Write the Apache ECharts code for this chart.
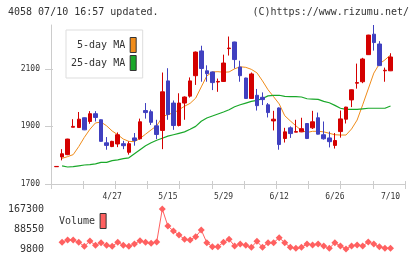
<!DOCTYPE html>
<html>
<head>
<meta charset="utf-8">
<script src="https://cdn.jsdelivr.net/npm/echarts@6/dist/echarts.min.js"></script>
<style>
html, body { margin: 0; padding: 0; background: #fff; }
#chart { width: 420px; height: 259px; }
</style>
</head>
<body>
<div id="chart"></div>
<script>
// 日足 (index 0..60)
var openP  = [1760,1794,1802,1897,1896,1930,1917,1944,1923,1843,1830,1839,1840,1810,1860,1857,1955,1951,1902,1886,
              2058,1981,1903,1981,2005,2076,2162,2093,2089,2054,2056,2170,2193,2106,2068,1997,2008,2001,1975,1919,
              1964,1858,1895,1880,1881,1910,1895,1930,1871,1860,1834,1882,1925,1992,2050,2055,2149,2220,2186,2093,2093];
var closeP = [1761,1805,1856,1900,1925,1888,1944,1931,1848,1834,1848,1871,1833,1840,1851,1916,1948,1914,1872,2020,
              1941,1903,1981,2002,2058,2158,2101,2083,2052,2056,2120,2172,2132,2076,1997,2082,1972,1993,1948,1925,
              1837,1881,1875,1882,1892,1858,1916,1873,1857,1847,1851,1926,1967,2027,2052,2134,2217,2191,2111,2095,2141];
var lowP   = [1760,1782,1800,1897,1896,1887,1909,1917,1847,1819,1828,1828,1821,1802,1833,1854,1927,1905,1856,1821,
              1923,1888,1900,1923,2000,2044,2055,2055,2026,2020,2055,2146,2101,2055,1996,1996,1955,1974,1931,1886,
              1819,1844,1860,1880,1880,1856,1891,1872,1854,1827,1823,1861,1910,1967,2031,2050,2148,2163,2110,2055,2092];
var highP  = [1761,1821,1857,1925,1950,1931,1953,1953,1924,1863,1850,1879,1850,1848,1877,1927,1981,1958,1923,2087,
              2102,1990,2015,2004,2070,2160,2180,2112,2090,2066,2149,2212,2194,2128,2069,2087,2030,2018,1981,1954,
              1966,1895,1900,1923,1930,1911,1954,1948,1917,1882,1877,1955,1968,2028,2118,2138,2218,2252,2196,2104,2154];
var ma5  = [null,1789,1795,1802,1830,1862,1890,1912,1915,1902,1884,1871,1856,1848,1847,1858,1873,1888,1902,1932,
            1942,1946,1958,1970,1980,1998,2037,2075,2089,2090,2088,2089,2100,2107,2105,2098,2086,2058,2027,2003,
            1978,1937,1919,1902,1886,1879,1883,1883,1881,1876,1871,1870,1870,1891,1922,1975,2030,2085,2117,2131,2148];
var ma25 = [null,1763,1759,1760,1763,1766,1767,1770,1775,1775,1781,1784,1788,1791,1805,1819,1833,1843,1852,1859,
            1866,1871,1876,1881,1890,1900,1918,1929,1936,1943,1950,1958,1968,1975,1981,1987,1990,1997,2006,2008,
            2008,2004,2003,2003,2002,1996,1995,1994,1987,1982,1973,1963,1959,1959,1959,1961,1963,1963,1963,1963,1971];
var volume = [null,36200,45200,45200,36200,20400,41300,24400,34600,24400,20400,36200,24400,20400,29500,42500,36200,32200,37400,167300,
              100400,80700,65000,48000,45200,58200,84600,34600,18900,18900,36200,48000,21600,29500,24400,16500,40100,16500,34600,34600,
              54300,34600,16500,12400,16500,29500,25600,29500,21600,12400,34600,21600,9800,21600,25600,21600,37400,29500,18900,12400,12400];
var dateIdx = [10, 20, 30, 40, 50, 60];
var dateLabels = ['4/27', '5/15', '5/29', '6/12', '6/26', '7/10'];
var priceTicks = [1700, 1900, 2100];
var volTicks = [9800, 88550, 167300];

var XMIN = -0.99, XMAX = 62.6;
var MONO = 'DejaVu Sans Mono';
var axisGray = '#cccccc';

function plain(v) {
    return String(v);    // 桁区切りなし
}

function drawChart() {
    var myChart = echarts.init(document.getElementById('chart'));

    var candles = [], ma5Data = [], ma25Data = [], volData = [];
    for (var i = 0; i < openP.length; i++) {
        candles.push([i, openP[i], closeP[i], lowP[i], highP[i]]);
        if (ma5[i] != null) ma5Data.push([i, ma5[i]]);
        if (ma25[i] != null) ma25Data.push([i, ma25[i]]);
        if (volume[i] != null) volData.push([i, volume[i]]);
    }
    // x軸の目盛り（11等分）
    var xTicks = [];
    for (var k = 0; k <= 11; k++) {
        xTicks.push(XMIN + k * (XMAX - XMIN) / 11);
    }

    var option = {
        animation: false,
        backgroundColor: '#fff',
        graphic: [
            { type: 'text', left: 8, top: 7, style: { text: '4058 07/10 16:57 updated.', font: '10px "DejaVu Sans Mono"', fill: '#333' } },
            { type: 'text', right: 11, top: 7, style: { text: '(C)https://www.rizumu.net/', font: '10px "DejaVu Sans Mono"', fill: '#333' } }
        ],
        legend: [
            {
                data: ['5-day MA', '25-day MA'],
                left: 66, top: 30,
                orient: 'vertical',
                align: 'right',
                icon: 'rect',
                itemWidth: 6, itemHeight: 15, itemGap: 2,
                padding: [7, 6, 7, 5],
                borderColor: '#dddddd', borderWidth: 1,
                backgroundColor: '#fff',
                selectedMode: false,
                itemStyle: { borderColor: '#333', borderWidth: 1 },
                formatter: function (name) { return name.length < 9 ? ' ' + name : name; },
                textStyle: { fontFamily: MONO, fontSize: 10, color: '#333' }
            },
            {
                data: ['Volume'],
                left: 59, top: 213,
                align: 'right',
                icon: 'rect',
                itemWidth: 6, itemHeight: 15,
                padding: 0,
                selectedMode: false,
                itemStyle: { borderColor: '#333', borderWidth: 1 },
                textStyle: { fontFamily: MONO, fontSize: 10, color: '#333' }
            }
        ],
        grid: [
            { left: 51, top: 25, width: 354, height: 159 },
            { left: 51, top: 209, width: 354, height: 40 }
        ],
        xAxis: [
            {
                type: 'value', gridIndex: 0, min: XMIN, max: XMAX,
                axisLine: { show: true, onZero: false, lineStyle: { color: axisGray } },
                axisTick: { show: false },
                splitLine: { show: false },
                axisLabel: {
                    customValues: dateIdx, margin: 9,
                    fontFamily: MONO, fontSize: 8, color: '#333',
                    formatter: function (v) { return dateLabels[dateIdx.indexOf(v)]; }
                }
            },
            {
                // 目盛り線だけ
                type: 'value', gridIndex: 0, position: 'bottom', offset: -3, min: XMIN, max: XMAX,
                axisLine: { show: false, onZero: false },
                axisTick: { show: true, length: 8, customValues: xTicks, lineStyle: { color: axisGray } },
                axisLabel: { show: false },
                splitLine: { show: false }
            },
            {
                type: 'value', gridIndex: 1, min: XMIN, max: XMAX, show: false,
                axisLine: { onZero: false }, splitLine: { show: false }
            }
        ],
        yAxis: [
            {
                type: 'value', gridIndex: 0, min: 1700, max: 2252,
                axisLine: { show: true, onZero: false, lineStyle: { color: axisGray } },
                axisTick: { show: false },
                splitLine: { show: false },
                axisLabel: { customValues: priceTicks, margin: 11, fontFamily: MONO, fontSize: 8, color: '#333', formatter: plain }
            },
            {
                type: 'value', gridIndex: 0, position: 'left', offset: -2, min: 1700, max: 2252,
                axisLine: { show: false, onZero: false },
                axisTick: { show: true, length: 8, customValues: priceTicks, lineStyle: { color: axisGray } },
                axisLabel: { show: false },
                splitLine: { show: false }
            },
            {
                type: 'value', gridIndex: 1, min: 9800, max: 167300,
                axisLine: { show: false, onZero: false },
                axisTick: { show: false },
                splitLine: { show: false },
                axisLabel: { customValues: volTicks, margin: 7, fontFamily: MONO, fontSize: 10, color: '#333', formatter: plain }
            }
        ],
        series: [
            {
                name: '5-day MA', type: 'line', xAxisIndex: 0, yAxisIndex: 0,
                data: ma5Data, showSymbol: false, z: 2,
                itemStyle: { color: '#f08c1a' },
                lineStyle: { color: '#f08c1a', width: 1 }
            },
            {
                name: '25-day MA', type: 'line', xAxisIndex: 0, yAxisIndex: 0,
                data: ma25Data, showSymbol: false, z: 2,
                itemStyle: { color: '#1aa82a' },
                lineStyle: { color: '#1aa82a', width: 1.2 }
            },
            {
                name: 'price', type: 'candlestick', xAxisIndex: 0, yAxisIndex: 0,
                data: candles, barWidth: 4, z: 3,
                encode: { x: 0, y: [1, 2, 3, 4] },
                itemStyle: {
                    color: '#d40000', color0: '#4040c0',
                    borderColor: '#d40000', borderColor0: '#4040c0', borderWidth: 1
                }
            },
            {
                name: 'Volume', type: 'line', xAxisIndex: 2, yAxisIndex: 2,
                data: volData, symbol: 'diamond', symbolSize: 7,
                itemStyle: { color: '#ff6060' },
                lineStyle: { color: '#ff6060', width: 1 }
            }
        ]
    };
    myChart.setOption(option);
}

drawChart();
</script>
</body>
</html>
